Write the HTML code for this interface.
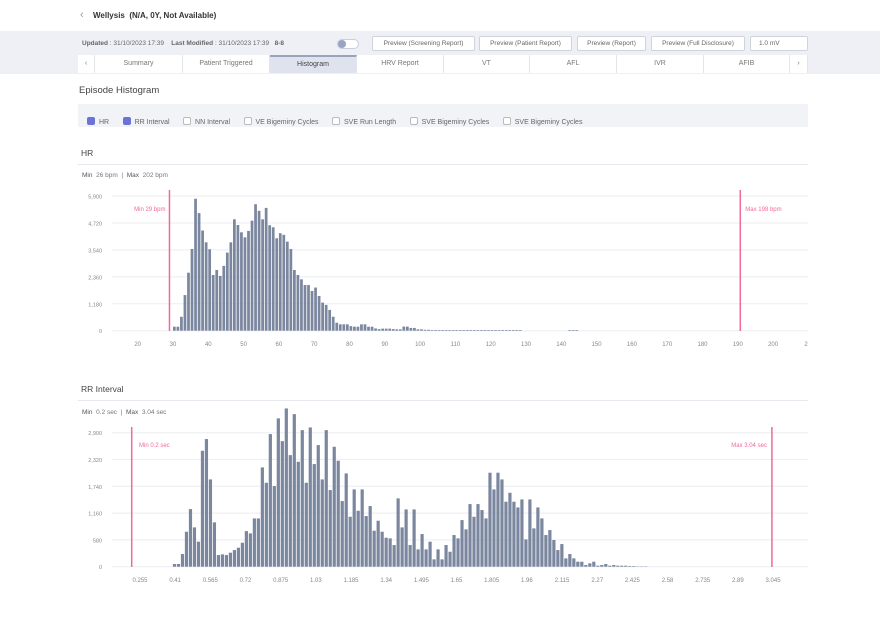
<!DOCTYPE html>
<html><head><meta charset="utf-8">
<style>
*{box-sizing:border-box;margin:0;padding:0}
body{width:880px;height:620px;background:#fff;font-family:"Liberation Sans",sans-serif;color:#333;position:relative;overflow:hidden}
.abs{position:absolute}
.band{left:0;top:31px;width:880px;height:43px;background:#eef0f5}
.btn{position:absolute;top:36px;height:15px;border:1px solid #cfd3dc;background:#fff;font-size:6.5px;color:#666;text-align:center;line-height:13px;border-radius:2px}
.tab{position:absolute;top:55px;height:18px;font-size:7px;color:#777;text-align:center;line-height:18px;border-right:1px solid #e2e5ec;background:#fff}
.cb{display:inline-block;width:8px;height:8px;border:1px solid #bbb;border-radius:2px;vertical-align:-1px;margin-right:4px;background:#fff}
.cb.on{background:#6b73d8;border-color:#6b73d8}
.cbi{font-size:7px;color:#666;margin-right:9px}
</style></head><body>
<div class="abs" style="left:80px;top:9px;font-size:11px;color:#999">‹</div>
<div class="abs" style="left:93px;top:11px;font-size:8px;font-weight:bold;color:#333">Wellysis &nbsp;(N/A, 0Y, Not Available)</div>
<div class="abs band"></div>
<div class="abs" style="left:82px;top:40px;font-size:6.5px;color:#666"><b>Updated</b> : 31/10/2023 17:39 &nbsp;&nbsp;&nbsp;<b>Last Modified</b> : 31/10/2023 17:39 &nbsp;&nbsp;<b>8-8</b></div>
<div class="abs" style="left:337px;top:39px;width:22px;height:10px;border-radius:5px;background:#fff;border:1px solid #c8cde0"><div style="width:8px;height:8px;border-radius:4px;background:#9aa3c4"></div></div>
<div class="btn" style="left:372px;width:103px">Preview (Screening Report)</div>
<div class="btn" style="left:479px;width:93px">Preview (Patient Report)</div>
<div class="btn" style="left:577px;width:69px">Preview (Report)</div>
<div class="btn" style="left:651px;width:94px">Preview (Full Disclosure)</div>
<div class="btn" style="left:750px;width:58px;text-align:left;padding-left:8px">1.0 mV</div>
<div class="tab" style="left:78px;width:17px">‹</div>
<div class="tab" style="left:95px;width:88px">Summary</div>
<div class="tab" style="left:183px;width:87px">Patient Triggered</div>
<div class="tab" style="left:270px;width:87px;background:#dfe3ee;color:#444;border-top:2px solid #9aa3bd;line-height:16px">Histogram</div>
<div class="tab" style="left:357px;width:87px">HRV Report</div>
<div class="tab" style="left:444px;width:86px">VT</div>
<div class="tab" style="left:530px;width:87px">AFL</div>
<div class="tab" style="left:617px;width:87px">IVR</div>
<div class="tab" style="left:704px;width:86px">AFIB</div>
<div class="tab" style="left:790px;width:18px">›</div>
<div class="abs" style="left:79px;top:85px;font-size:9.5px;color:#444">Episode Histogram</div>
<div class="abs" style="left:78px;top:104px;width:730px;height:23px;background:#f2f3f7;padding:7px 0 0 9px;white-space:nowrap">
<span class="cbi"><span class="cb on"></span>HR</span>
<span class="cbi"><span class="cb on"></span>RR Interval</span>
<span class="cbi"><span class="cb"></span>NN Interval</span>
<span class="cbi"><span class="cb"></span>VE Bigeminy Cycles</span>
<span class="cbi"><span class="cb"></span>SVE Run Length</span>
<span class="cbi"><span class="cb"></span>SVE Bigeminy Cycles</span>
<span class="cbi"><span class="cb"></span>SVE Bigeminy Cycles</span>
</div>
<div class="abs" style="left:81px;top:148px;font-size:8.5px;color:#444">HR</div>
<div class="abs" style="left:78px;top:164px;width:730px;height:1px;background:#e6e8ee"></div>
<div class="abs" style="left:82px;top:172px;font-size:6.5px;color:#777"><b style="color:#555;font-weight:normal">Min</b> &nbsp;26 bpm &nbsp;| &nbsp;<span style="color:#555">Max</span> &nbsp;202 bpm</div>
<div class="abs" style="left:81px;top:384px;font-size:8.5px;color:#444">RR Interval</div>
<div class="abs" style="left:78px;top:400px;width:730px;height:1px;background:#e6e8ee"></div>
<div class="abs" style="left:82px;top:409px;font-size:6.5px;color:#777"><span style="color:#555">Min</span> &nbsp;0.2 sec &nbsp;| &nbsp;<span style="color:#555">Max</span> &nbsp;3.04 sec</div>
<svg id="hr" class="abs" style="left:0;top:0" width="880" height="620"></svg>
<script>
// ---- HR chart data ----
const hrStart = 30;
const hrValues = [175,175,610,1560,2540,3580,5780,5150,4390,3870,3570,2440,2660,2400,2840,3420,3870,4880,4630,4310,4090,4370,4820,5540,5250,4880,5380,4620,4530,4050,4270,4200,3900,3580,2660,2440,2250,2000,2000,1740,1890,1520,1230,1130,910,610,350,280,280,280,200,175,175,280,280,175,175,100,70,90,90,90,70,60,60,180,180,120,120,60,60,40,40,30,30,30,30,30,30,30,30,30,30,30,30,30,30,30,30,30,30,30,30,30,30,30,30,30,30,0,0,0,0,0,0,0,0,0,0,0,0,0,30,30,30];
const hrTicksY = [0,1180,2360,3540,4720,5900];
const hrTicksX = [20,30,40,50,60,70,80,90,100,110,120,130,140,150,160,170,180,190,200];
const hrMinLine = 29, hrMaxLineLabel = "Max 198 bpm", hrMaxLinePos = 190.7;
// ---- RR chart data ----
const rrStart = 0.4, rrBin = 0.0176;
const rrValues = [58,58,274,757,1247,851,541,2509,2762,1889,959,252,267,252,303,360,411,519,771,721,1045,1045,2149,1817,2870,1745,3210,2718,3425,2415,3302,2271,2956,1817,3014,2221,2632,1889,2956,1658,2596,2293,1420,2019,1081,1673,1211,1673,1096,1312,779,995,757,627,613,469,1478,851,1240,469,1240,375,707,375,541,159,375,159,469,324,685,613,1009,808,1355,1081,1355,1226,1045,2034,1673,2034,1889,1406,1600,1406,1283,1456,591,1456,829,1283,1045,685,793,577,360,490,180,274,180,108,108,36,72,108,22,36,58,22,36,22,22,22,14,14,7,7,7];
const rrTicksY = [0,580,1160,1740,2320,2900];
const rrTicksYLabels = ["0","580","1,160","1,740","2,320","2,900"];
const rrTicksX = [0.255,0.41,0.565,0.72,0.875,1.03,1.185,1.34,1.495,1.65,1.805,1.96,2.115,2.27,2.425,2.58,2.735,2.89,3.045];
const rrMinLine = 0.2, rrMaxLine = 3.04;

const svg = document.getElementById('hr');
const NS = 'http://www.w3.org/2000/svg';
function mk(tag, attrs, parent){const e=document.createElementNS(NS,tag);for(const k in attrs)e.setAttribute(k,attrs[k]);(parent||svg).appendChild(e);return e;}
function fmt(n){return n.toLocaleString('en-US');}

// HR scales
const hrX = v => 173 + (v-30)*3.53;
const hrY = v => 330.7 - v/5900*134.7;
// RR scales
const rrX = v => 140 + (v-0.255)*226.9;
const rrY = v => 566.7 - v/2900*134;

function drawAxes(yTicks, yLab, yFn, xTicks, xFn, xLabY, name){
  yTicks.forEach((t,i)=>{
    const g=mk('line',{x1:112,x2:808,y1:yFn(t),y2:yFn(t),stroke:'#eceef3','stroke-width':1});
    
    
    const tx=mk('text',{x:102,y:yFn(t)+2.5,'text-anchor':'end','font-size':5.5,fill:'#888'});
    tx.textContent=yLab[i];
    
    
  });
  xTicks.forEach(t=>{
    const tx=mk('text',{x:xFn(t),y:xLabY,'text-anchor':'middle','font-size':6,fill:'#888'});
    tx.textContent=String(t);
    
    
  });
}
drawAxes(hrTicksY, hrTicksY.map(fmt), hrY, hrTicksX, hrX, 346, 'hr');
const t2=mk('text',{x:806,y:346,'text-anchor':'middle','font-size':6,fill:'#888'});t2.textContent='2';
drawAxes(rrTicksY, rrTicksYLabels, rrY, rrTicksX, rrX, 582, 'rr');

const barColor='#7b869f';
hrValues.forEach((v,i)=>{
  if(v<=0)return;
  const x0=hrX(hrStart+i), x1=hrX(hrStart+i+1);
  const r=mk('rect',{x:x0,y:hrY(v),width:Math.max(0.5,x1-x0-0.8),height:hrY(0)-hrY(v),fill:barColor});
  
  
});
rrValues.forEach((v,i)=>{
  if(v<=0)return;
  const x0=rrX(rrStart+i*rrBin), x1=rrX(rrStart+(i+1)*rrBin);
  const r=mk('rect',{x:x0,y:rrY(v),width:Math.max(0.5,x1-x0-0.8),height:rrY(0)-rrY(v),fill:barColor});
  
  
});
// marker lines
const pink='#f06a9a';
function marker(x,y1,y2,label,lx,anchor,ly,name){
  const l=mk('line',{x1:x,x2:x,y1:y1,y2:y2,stroke:pink,'stroke-width':1.5});
  
  
  const t=mk('text',{x:lx,y:ly,'text-anchor':anchor,'font-size':6,fill:pink});
  t.textContent=label;
  
  
}
marker(hrX(hrMinLine),190,331,'Min 29 bpm',hrX(hrMinLine)-4,'end',211,'hr-min');
marker(hrX(hrMaxLinePos),190,331,hrMaxLineLabel,hrX(hrMaxLinePos)+5,'start',211,'hr-max');
marker(131.7,427,567,'Min 0.2 sec',139,'start',447,'rr-min');
marker(rrX(rrMaxLine),427,567,'Max 3.04 sec',rrX(rrMaxLine)-5,'end',447,'rr-max');
</script>
</body></html>
